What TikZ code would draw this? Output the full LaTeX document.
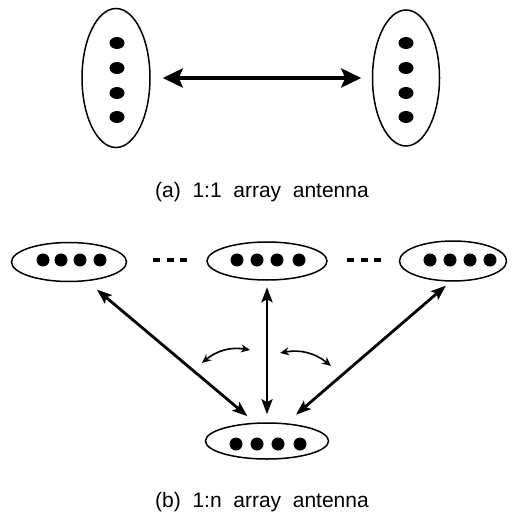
\documentclass[tikz,border=0pt]{standalone}
\usepackage{fontspec}
\setmainfont{Liberation Sans}
\usetikzlibrary{arrows.meta,shapes.geometric}
\begin{document}
\begin{tikzpicture}[x=1pt,y=-1pt,
  array/.style={draw, ellipse, line width=1.5pt, inner sep=0pt},
  bigarrow/.style={line width=3.8pt, {Stealth[length=20pt,width=19pt,inset=4pt]}-{Stealth[length=20pt,width=19pt,inset=4pt]}},
  link/.style={line width=2.8pt, {Stealth[length=15pt,width=11pt,inset=3pt]}-{Stealth[length=15pt,width=11pt,inset=3pt]}},
  swing/.style={line width=1.6pt, {Stealth[length=9pt,width=8pt]}-{Stealth[length=9pt,width=8pt]}},
  dots/.style={line width=3.5pt, dash pattern=on 7pt off 6.5pt},
  caption/.style={font=\fontsize{21}{24}\selectfont, inner sep=0pt}]
\useasboundingbox (0,0) rectangle (519,521);

% (a) two vertical arrays
\node[array, minimum width=68pt, minimum height=139pt] (TL) at (116,78) {};
\node[array, minimum width=67pt, minimum height=136pt] (TR) at (406,78) {};
\foreach \y in {43,68,93,117} {
  \fill (117,\y) ellipse (7.5pt and 6pt);
  \fill (406,\y) ellipse (7.5pt and 6pt);
}
\draw[bigarrow, shorten <=12pt, shorten >=10.5pt] (TL.east) -- (TR.west);
\node[caption] (capa) at (262,192) {(a)\ \ 1:1\ \ array\ \ antenna};

% (b) one array linked to n arrays
\node[array, minimum width=115pt, minimum height=39pt] (L) at (69,262) {};
\node[array, minimum width=120pt, minimum height=38pt] (M) at (267,261) {};
\node[array, minimum width=107pt, minimum height=40pt] (R) at (453,261) {};
\node[array, minimum width=123pt, minimum height=36pt] (B) at (267,441) {};
\foreach \x in {43,61,80,100} \fill (\x,260) circle (6.5pt);
\foreach \x in {237,257,277,299} \fill (\x,260) circle (6.5pt);
\foreach \x in {430,450,470,490} \fill (\x,260) circle (6.5pt);
\foreach \x in {236,257,278,300} \fill (\x,444) circle (6.5pt);

\draw[dots] (153,260) -- (190,260);
\draw[dots] (347,260) -- (384,260);

\draw[link, shorten <=13pt, shorten >=10pt] (L.-47) -- (B.123);
\draw[link, shorten <=6.5pt, shorten >=8pt] (M.south) -- (B.north);
\draw[link, shorten <=6pt, shorten >=13pt] (R.-97) -- (B.43);

\coordinate (s1) at (202,363);
\coordinate (s2) at (250,350);
\coordinate (s3) at (280,353);
\coordinate (s4) at (331,366);
\draw[swing] (s1) to[bend left=25] (s2);
\draw[swing] (s3) to[bend left=25] (s4);

\node[caption] (capb) at (262,502) {(b)\ \ 1:n\ \ array\ \ antenna};
\end{tikzpicture}
\end{document}
